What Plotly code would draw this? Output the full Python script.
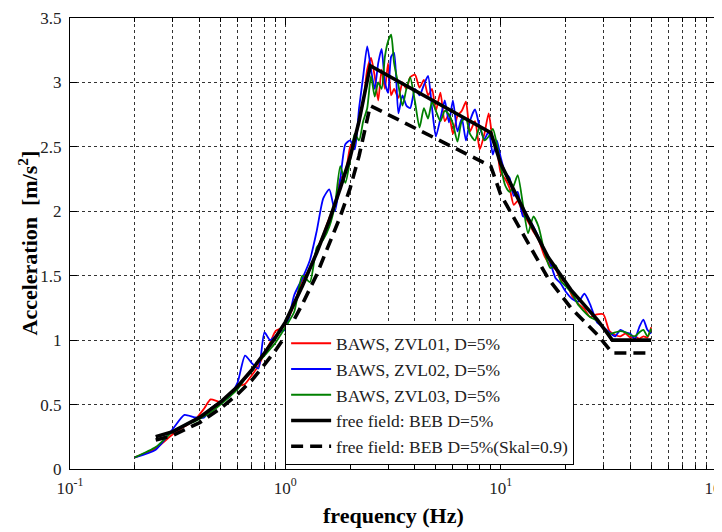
import plotly.graph_objects as go

# Shared frequency axis for the three measured spectra (Hz)
freq = [0.2, 0.25, 0.3, 0.34, 0.38, 0.42, 0.45, 0.5, 0.55, 0.6,
        0.65, 0.7, 0.75, 0.8, 0.85, 0.9, 0.95, 1.0, 1.1, 1.2,
        1.3, 1.4, 1.5, 1.6, 1.7, 1.8, 1.9, 2.0, 2.1, 2.2,
        2.3, 2.4, 2.5, 2.6, 2.7, 2.8, 2.9, 3.0, 3.1, 3.2,
        3.35, 3.5, 3.65, 3.8, 4.0, 4.2, 4.4, 4.6, 4.8, 5.0,
        5.25, 5.5, 5.75, 6.0, 6.3, 6.6, 6.9, 7.2, 7.6, 8.0,
        8.4, 8.8, 9.2, 9.6, 10, 10.5, 11, 11.5, 12, 12.7,
        13.4, 14.2, 15, 16, 17, 18, 19, 20, 21.5, 23,
        24.5, 26, 28, 30, 32, 34, 36, 38, 40, 42,
        44, 46, 48, 50]

zvl01 = [0.09, 0.16, 0.27, 0.33, 0.38, 0.47, 0.54, 0.52, 0.58, 0.64,
         0.66, 0.73, 0.80, 0.90, 0.98, 1.07, 1.09, 1.12, 1.28, 1.47,
         1.55, 1.70, 1.82, 1.95, 2.05, 2.25, 2.30, 2.50, 2.56, 2.72,
         2.85, 3.10, 3.19, 3.05, 2.86, 3.10, 2.95, 3.15, 2.90, 2.95,
         2.88, 3.00, 2.95, 3.04, 3.06, 2.96, 3.02, 2.90, 2.95, 2.78,
         2.92, 2.70, 2.75, 2.60, 2.74, 2.78, 2.85, 2.62, 2.70, 2.48,
         2.60, 2.76, 2.55, 2.48, 2.30, 2.25, 2.18, 2.05, 2.08, 1.98,
         1.92, 1.84, 1.78, 1.65, 1.58, 1.55, 1.47, 1.45, 1.34, 1.28,
         1.24, 1.18, 1.20, 1.20, 1.07, 1.04, 1.03, 1.05, 1.02, 1.03,
         1.01, 1.03, 1.02, 1.10]

zvl02 = [0.09, 0.15, 0.31, 0.42, 0.40, 0.40, 0.47, 0.52, 0.56, 0.67,
         0.88, 0.82, 0.78, 1.06, 1.00, 1.03, 1.07, 1.08, 1.35, 1.48,
         1.62, 1.85, 2.10, 2.17, 2.00, 2.25, 2.52, 2.55, 2.48, 2.80,
         3.05, 3.28, 3.10, 2.95, 3.15, 3.26, 3.00, 2.92, 3.20, 3.23,
         2.76, 2.90, 2.82, 2.80, 2.95, 2.90, 2.98, 3.05, 2.80, 2.58,
         2.72, 2.86, 2.69, 2.86, 2.62, 2.72, 2.55, 2.70, 2.79, 2.65,
         2.56, 2.62, 2.44, 2.55, 2.42, 2.30, 2.26, 2.12, 2.15, 1.96,
         1.95, 1.88, 1.80, 1.70, 1.60, 1.48, 1.44, 1.38, 1.32, 1.30,
         1.36, 1.28, 1.14, 1.10, 1.06, 1.03, 1.08, 1.06, 1.05, 1.01,
         1.10, 1.16, 1.08, 1.05]

zvl03 = [0.09, 0.17, 0.29, 0.34, 0.37, 0.41, 0.44, 0.50, 0.56, 0.62,
         0.70, 0.76, 0.83, 0.88, 0.93, 0.98, 1.04, 1.10, 1.22, 1.50,
         1.45, 1.72, 1.78, 1.88, 2.05, 2.35, 2.22, 2.40, 2.60, 2.55,
         2.70, 2.80, 3.05, 2.89, 3.00, 2.95, 3.20, 3.32, 3.37, 3.15,
         2.98, 2.82, 2.95, 3.04, 2.85, 2.65, 2.80, 2.72, 2.85, 2.78,
         2.70, 2.78, 2.75, 2.68, 2.54, 2.70, 2.72, 2.60, 2.55, 2.66,
         2.55, 2.58, 2.64, 2.52, 2.35, 2.20, 2.15, 2.20, 2.28, 2.05,
         1.83, 1.96, 1.88, 1.68, 1.56, 1.58, 1.46, 1.42, 1.36, 1.27,
         1.22, 1.18, 1.15, 1.10, 1.05, 1.06, 1.07, 1.06, 1.04, 1.03,
         1.06, 1.08, 1.03, 1.09]

# Free-field design spectrum (BEB, D=5%)
beb_freq = [0.25, 0.3, 0.4, 0.5, 0.6, 0.7, 0.8, 0.9, 1.0, 1.2,
            1.4, 1.6, 1.8, 2.0, 2.2, 2.48, 9.0, 10.0, 12.8, 16.6,
            21.2, 28.2, 33.0, 50.0]
beb_acc = [0.25, 0.29, 0.40, 0.52, 0.64, 0.77, 0.90, 1.02, 1.14, 1.42,
           1.68, 1.93, 2.18, 2.42, 2.70, 3.13, 2.61, 2.37, 2.01, 1.645,
           1.39, 1.156, 1.00, 1.00]
# Scaled design spectrum (Skal = 0.9)
beb09_acc = [0.225, 0.26, 0.36, 0.47, 0.58, 0.69, 0.81, 0.92, 1.03, 1.28,
             1.51, 1.74, 1.96, 2.18, 2.43, 2.82, 2.35, 2.13, 1.81, 1.48,
             1.25, 1.04, 0.90, 0.90]

names = ["BAWS, ZVL01, D=5%", "BAWS, ZVL02, D=5%", "BAWS, ZVL03, D=5%",
         "free field: BEB D=5%", "free field: BEB D=5%(Skal=0.9)"]

x_tickvals = [0.1, 1, 10, 100]
x_ticktext = ["10<sup>-1</sup>", "10<sup>0</sup>", "10<sup>1</sup>", "10<sup>2</sup>"]
y_tickvals = [0, 0.5, 1, 1.5, 2, 2.5, 3, 3.5]
y_ticktext = ["0", "0.5", "1", "1.5", "2", "2.5", "3", "3.5"]

FONT = "Liberation Serif"

fig = go.Figure()
for vals, col, nm in [(zvl01, "#ff0000", names[0]),
                      (zvl02, "#0000ff", names[1]),
                      (zvl03, "#008000", names[2])]:
    fig.add_trace(go.Scatter(x=freq, y=vals, mode="lines", name=nm,
                             line=dict(color=col, width=1.8, shape="spline", smoothing=0.6)))

fig.add_trace(go.Scatter(x=beb_freq, y=beb_acc, mode="lines", name=names[3],
                         line=dict(color="black", width=3.6)))
fig.add_trace(go.Scatter(x=beb_freq, y=beb09_acc, mode="lines", name=names[4],
                         line=dict(color="black", width=3.6, dash="12px,7px")))

minor_vals = [m * 10 ** e for e in (-1, 0, 1) for m in range(2, 10)]

fig.update_xaxes(type="log", range=[-1, 2], tickvals=x_tickvals, ticktext=x_ticktext,
                 showgrid=True, gridcolor="#333333", griddash="dot", gridwidth=1,
                 minor=dict(tickvals=minor_vals, showgrid=True, gridcolor="#333333",
                            griddash="dot", gridwidth=1, ticks="inside", ticklen=4,
                            tickcolor="black"),
                 ticks="inside", ticklen=7, tickcolor="black",
                 showline=True, linecolor="black", linewidth=1.2, mirror="allticks",
                 tickfont=dict(family=FONT, size=17, color="#222222"),
                 ticklabelstandoff=3, ticklabeloverflow="allow",
                 automargin=False, zeroline=False)
fig.update_yaxes(range=[0, 3.5], tickvals=y_tickvals, ticktext=y_ticktext,
                 showgrid=True, gridcolor="#333333", griddash="dot", gridwidth=1,
                 ticks="inside", ticklen=7, tickcolor="black",
                 showline=True, linecolor="black", linewidth=1.2, mirror="allticks",
                 tickfont=dict(family=FONT, size=17, color="#222222"),
                 ticklabelstandoff=4,
                 automargin=False, zeroline=False)

fig.add_annotation(text="<b>frequency (Hz)</b>", xref="paper", yref="paper",
                   x=0.5, y=0, yshift=-46, xanchor="center", yanchor="middle",
                   showarrow=False, font=dict(family=FONT, size=22, color="black"))
fig.add_annotation(text="<b>Acceleration  [m/s<sup>2</sup>]</b>", xref="paper", yref="paper",
                   x=0, y=0.5, xshift=-43, xanchor="center", yanchor="middle",
                   textangle=-90, showarrow=False,
                   font=dict(family=FONT, size=22, color="black"))

# The page body has an 8px margin, so the figure is shrunk by 8px and the
# plot-area margins are reduced accordingly.
fig.update_layout(width=714, height=524,
                  margin=dict(l=62, r=6, t=10, b=63),
                  paper_bgcolor="white", plot_bgcolor="white",
                  font=dict(family=FONT, color="black"),
                  legend=dict(x=0.333, y=0.008, xanchor="left", yanchor="bottom",
                              bgcolor="white", bordercolor="black", borderwidth=1,
                              font=dict(family=FONT, size=17.5, color="#222222"),
                              tracegroupgap=0, itemwidth=40),
                  showlegend=True)

fig.write_html("out.html")
